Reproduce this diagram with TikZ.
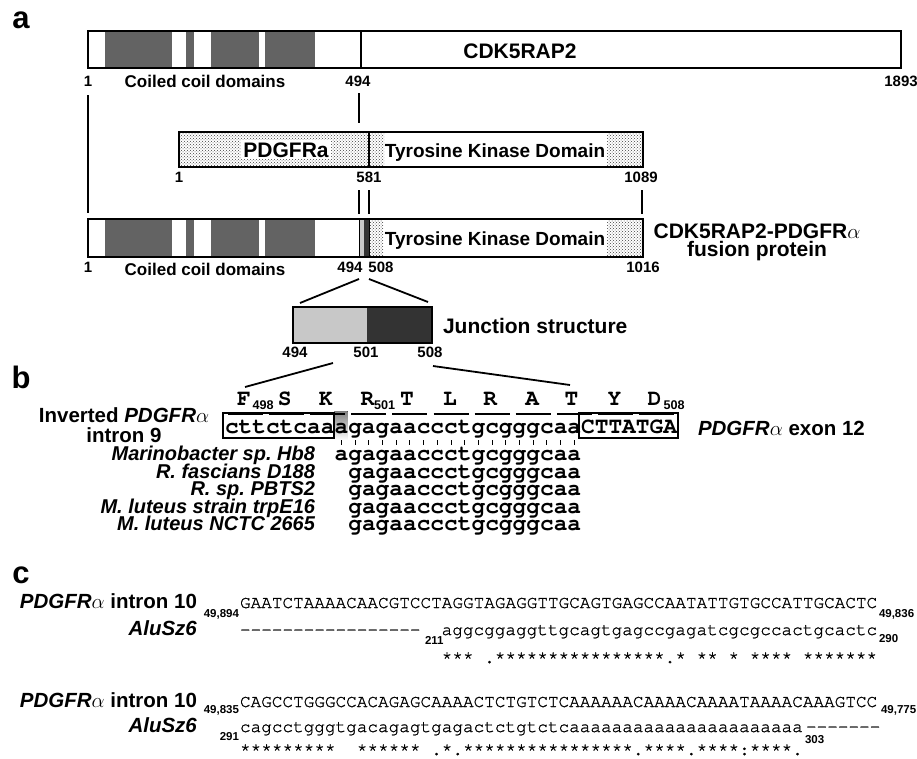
\documentclass[tikz,border=0pt]{standalone}
\usepackage{fontspec}
\setmainfont{Liberation Sans}
\newfontfamily\curfont{TeX Gyre Cursor}
\newfontfamily\curfontc{TeX Gyre Cursor}[FakeBold=1.2]
\usetikzlibrary{patterns}
\definecolor{coil}{HTML}{636363}
\definecolor{jlight}{HTML}{C8C8C8}
\definecolor{jdark}{HTML}{333333}
\definecolor{shade}{HTML}{C4C4C4}
\newcommand\fsz[1]{\fontsize{#1}{#1}\selectfont}
\frenchspacing
\begin{document}
\begin{tikzpicture}[x=1pt,y=-1pt,
  every node/.style={inner sep=0pt,outer sep=0pt},
  panel/.style={font=\fsz{31}\bfseries,anchor=base},
  big/.style={font=\fsz{21}\bfseries,anchor=base},
  tkd/.style={font=\fsz{19}\bfseries,anchor=base},
  ccd/.style={font=\fsz{17}\bfseries,anchor=base},
  num/.style={font=\fsz{15}\bfseries,anchor=base},
  spc/.style={font=\fsz{20}\bfseries\itshape,anchor=base east},
  lab/.style={font=\fsz{20.5}\bfseries},
  seqb/.style={font=\curfont\fsz{22.83}\bfseries,anchor=base west},
  resb/.style={font=\curfont\fsz{22.83}\bfseries,anchor=base},
  seqc/.style={font=\curfontc\fsz{17.7},anchor=base west},
  subs/.style={font=\fsz{11.5}\bfseries},
  rsub/.style={font=\fsz{12.6}\bfseries,anchor=base west},
  bar/.style={draw=black,line width=1.3pt},
  stip/.style={pattern=crosshatch dots,pattern color=black!75},
  conn/.style={line width=1.8pt},
  ovl/.style={line width=1.6pt},
  tickm/.style={line width=1pt},
  seqbox/.style={draw=black,line width=1.1pt}]
\useasboundingbox (0,0) rectangle (917,758);

% ---------- panel a ----------
\node[panel] (pa) at (21,28) {a};
% CDK5RAP2
\foreach \a/\b in {105/172,186/194,211/259,265/315}{
  \fill[coil] (\a,31) rectangle (\b,68);}
\draw[bar] (88,31) rectangle (901,68);
\draw[bar] (361,31) -- (361,68);
\node[big] (cdk) at (520,58) {CDK5RAP2};
\node[num] (c1) at (88,86) {1};
\node[ccd] (cc1) at (205,87) {Coiled coil domains};
\node[num] (c494) at (358,86) {494};
\node[num] (c1893) at (901,86) {1893};

\coordinate (l1a) at (88,95);  \coordinate (l1b) at (88,213);
\coordinate (l2a) at (359,93); \coordinate (l2b) at (359,123);
\draw[conn] (l1a) -- (l1b);
\draw[conn] (l2a) -- (l2b);

% PDGFRa
\fill[stip] (179,132) rectangle (369,167);
\fill[stip] (369,132) rectangle (384,167);
\fill[stip] (607,132) rectangle (643,167);
\draw[bar] (179,132) rectangle (643,167);
\draw[bar] (369,132) -- (369,167);
\node[big,fill=white,inner sep=2pt] (pdg) at (286,157) {PDGFRa};
\node[tkd] (tk1) at (495,157) {Tyrosine Kinase Domain};
\node[num] (p1) at (179,182) {1};
\node[num] (p581) at (369,182) {581};
\node[num] (p1089) at (641,182) {1089};

\coordinate (l3a) at (359,190); \coordinate (l3b) at (359,214);
\coordinate (l4a) at (369,190); \coordinate (l4b) at (369,214);
\coordinate (l5a) at (642,190); \coordinate (l5b) at (642,214);
\draw[conn] (l3a) -- (l3b);
\draw[conn] (l4a) -- (l4b);
\draw[conn] (l5a) -- (l5b);

% fusion
\foreach \a/\b in {105/172,186/194,211/259,265/315}{
  \fill[coil] (\a,219) rectangle (\b,257);}
\fill[jlight] (359,219) rectangle (364,257);
\fill[jdark] (364,219) rectangle (369,257);
\fill[stip] (369,219) rectangle (383,257);
\fill[stip] (607,219) rectangle (643,257);
\draw[bar] (88,219) rectangle (643,257);
\draw[line width=0.8pt] (359,219) -- (359,257);
\draw[line width=0.8pt] (369,219) -- (369,257);
\node[tkd] (tk2) at (495,245) {Tyrosine Kinase Domain};
\node[num] (f1) at (88,272) {1};
\node[ccd] (cc2) at (205,275) {Coiled coil domains};
\node[num] (f494) at (350,272) {494};
\node[num] (f508) at (381,272) {508};
\node[num] (f1016) at (643,272) {1016};
\node[big] (fus1) at (757,238) {CDK5RAP2-PDGFR$\alpha$};
\node[big] (fus2) at (757,256) {fusion protein};

% junction
\coordinate (j1a) at (359,279); \coordinate (j1b) at (300,303);
\coordinate (j2a) at (369,279); \coordinate (j2b) at (428,302);
\draw[conn] (j1a) -- (j1b);
\draw[conn] (j2a) -- (j2b);
\fill[jlight] (293,307) rectangle (367,343);
\fill[jdark] (367,307) rectangle (432,343);
\draw[bar] (293,307) rectangle (432,343);
\node[big,anchor=base west] (junc) at (443,333) {Junction structure};
\node[num] (j494) at (295,357) {494};
\node[num] (j501) at (366,357) {501};
\node[num] (j508) at (430,357) {508};

\coordinate (k1a) at (333,363); \coordinate (k1b) at (245,387);
\coordinate (k2a) at (433,366); \coordinate (k2b) at (570,385);
\draw[conn] (k1a) -- (k1b);
\draw[conn] (k2a) -- (k2b);

% ---------- panel b ----------
\node[panel] (pb) at (21,388) {b};
\fill[shade] (334,411) rectangle (347.5,440);
\foreach \r/\dx [count=\k from 0] in {F/-1.5,S/-2,K/-2,R/-1.5,T/-3,L/-1,R/-2,A/-1,T/-3,Y/-1,D/-2}{
  \node[resb] (res\k) at ({225+13.7*(3*\k+1.5)+\dx},405) {\r};
  \draw[ovl] ({225+41.1*\k+3},414) -- ({225+41.1*\k+38},414);}
\node[rsub] (s498) at (252.5,409) {498};
\node[rsub] (s501) at (374,409) {501};
\node[rsub] (s508) at (663.5,409) {508};
\node[seqb] (inv) at (225,433) {cttctcaaagagaaccctgcgggcaaCTTATGA};
\draw[seqbox] (223,413) rectangle (334,438);
\draw[seqbox] (579,413) rectangle (678,438);
\foreach \i in {8,...,25}{
  \draw[tickm] ({225+13.7*\i+6.85},440) -- ++(0,5);}
\node[lab,anchor=base] (invl1) at (124,422) {Inverted \textit{PDGFR}$\alpha$};
\node[lab,anchor=base] (invl2) at (124,442) {intron 9};
\node[lab,anchor=base west] (ex12) at (698,435) {\textit{PDGFR}$\alpha$ exon 12};

\node[spc] (sp1) at (315,460) {Marinobacter sp. Hb8};
\node[spc] (sp2) at (315,478) {R. fascians D188};
\node[spc] (sp3) at (315,495) {R. sp. PBTS2};
\node[spc] (sp4) at (315,513) {M. luteus strain trpE16};
\node[spc] (sp5) at (315,530) {M. luteus NCTC 2665};
\node[seqb] (q1) at (334.6,460) {agagaaccctgcgggcaa};
\node[seqb] (q2) at (348.3,478) {gagaaccctgcgggcaa};
\node[seqb] (q3) at (348.3,495) {gagaaccctgcgggcaa};
\node[seqb] (q4) at (348.3,513) {gagaaccctgcgggcaa};
\node[seqb] (q5) at (348.3,530) {gagaaccctgcgggcaa};

% ---------- panel c ----------
\node[panel] (pc) at (21,583) {c};
% block 1
\node[lab,anchor=base east] (r1l) at (197,608) {\textit{PDGFR}$\alpha$ intron 10};
\node[subs,anchor=base east] (r1s) at (239,617) {49,894};
\node[seqc] (r1q) at (240,608) {GAATCTAAAACAACGTCCTAGGTAGAGGTTGCAGTGAGCCAATATTGTGCCATTGCACTC};
\node[subs,anchor=base west] (r1e) at (879,617) {49,836};
\node[lab,anchor=base east] (a1l) at (197,635) {\textit{AluSz6}};
\node[seqc] (a1d) at (240,635) {-{}-{}-{}-{}-{}-{}-{}-{}-{}-{}-{}-{}-{}-{}-{}-{}-};
\node[subs,anchor=base west] (a1s) at (425,644) {211};
\node[seqc] (a1q) at (441.7,635) {aggcggaggttgcagtgagccgagatcgcgccactgcactc};
\node[subs,anchor=base west] (a1e) at (879,642) {290};
\node[seqc] (st1) at (441.7,663) {***~.****************.*~**~*~****~*******};
% block 2
\node[lab,anchor=base east] (r2l) at (197,707) {\textit{PDGFR}$\alpha$ intron 10};
\node[subs,anchor=base east] (r2s) at (239,713) {49,835};
\node[seqc] (r2q) at (240,707) {CAGCCTGGGCCACAGAGCAAAACTCTGTCTCAAAAAACAAAACAAAATAAAACAAAGTCC};
\node[subs,anchor=base west] (r2e) at (881,713) {49,775};
\node[lab,anchor=base east] (a2l) at (197,732) {\textit{AluSz6}};
\node[subs,anchor=base east] (a2s) at (239,740) {291};
\node[seqc] (a2q) at (240,732) {cagcctgggtgacagagtgagactctgtctcaaaaaaaaaaaaaaaaaaaaaa};
\node[subs,anchor=base west] (a2e) at (805,743) {303};
\node[seqc] (a2d) at (806,732) {-{}-{}-{}-{}-{}-{}-};
\node[seqc] (st2) at (240,755) {*********~~******~.*.****************.****.****:****.};
\end{tikzpicture}
\end{document}
